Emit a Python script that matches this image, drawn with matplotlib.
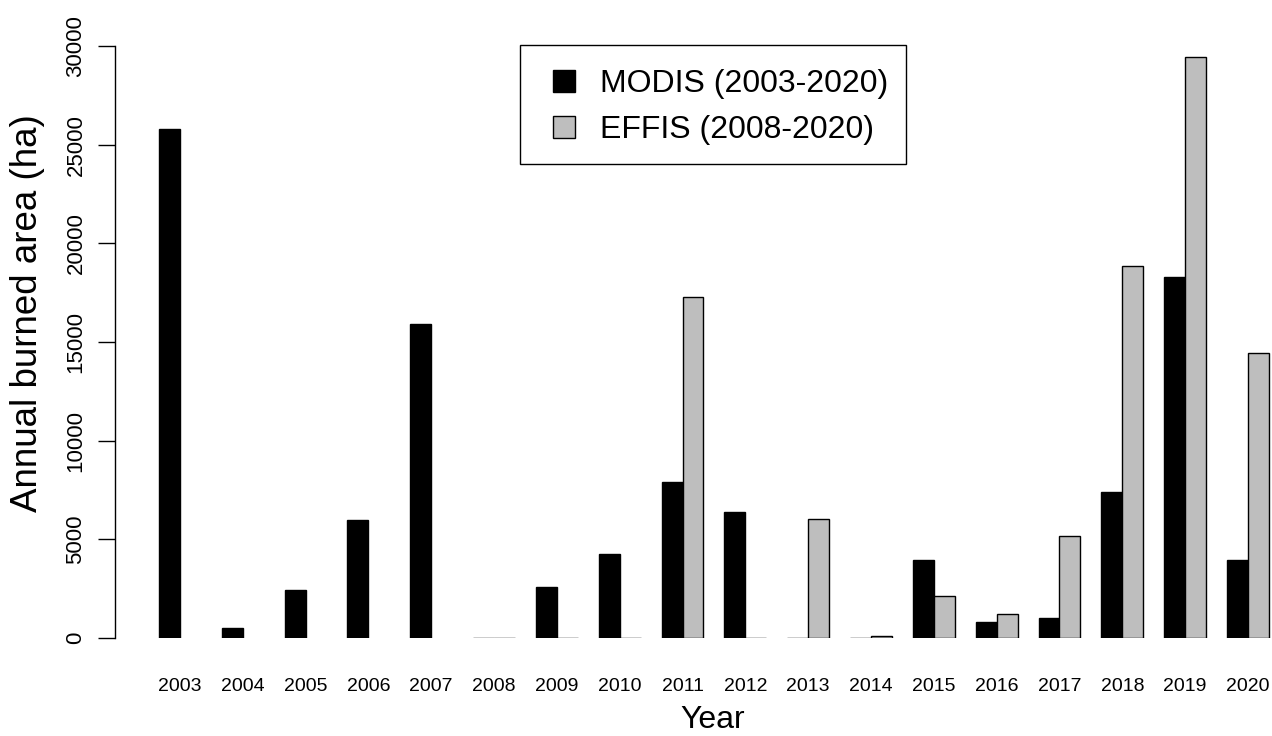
import numpy as np
import matplotlib
matplotlib.use('Agg')
import matplotlib.pyplot as plt
from matplotlib.patches import Patch, Rectangle
from matplotlib.legend_handler import HandlerPatch

plt.rcParams['font.family'] = ['Liberation Sans', 'DejaVu Sans']

# 연도별 연소 면적 (ha)
years = [2003, 2004, 2005, 2006, 2007, 2008, 2009, 2010, 2011,
         2012, 2013, 2014, 2015, 2016, 2017, 2018, 2019, 2020]
modis = [25800, 500, 2450, 5970, 15900, 0, 2580, 4240, 7900,
         6380, 0, 20, 3970, 800, 1010, 7380, 18270, 3970]
effis = [np.nan, np.nan, np.nan, np.nan, np.nan, 0, 0, 0, 17260,
         0, 6050, 120, 2150, 1220, 5170, 18870, 29450, 14450]
yticks = [0, 5000, 10000, 15000, 20000, 25000, 30000]

W, H = 1272, 736
L, B, T = 114.6, 638, 46
fig = plt.figure(figsize=(W / 100, H / 100), dpi=100)
ax = fig.add_axes([L / W, (H - B) / H, (W - L) / W, (B - T) / H])

idx = np.arange(len(years))
x_modis = 1 + 3 * idx
x_effis = 2 + 3 * idx
effis_arr = np.array(effis, dtype=float)
ok = ~np.isnan(effis_arr)

ax.bar(x_modis, modis, width=1, align='edge', color='black',
       edgecolor='black', linewidth=1.0)
ax.bar(x_effis[ok], effis_arr[ok], width=1, align='edge', color='#bebebe',
       edgecolor='black', linewidth=1.0)

ax.set_xlim(-1.12, (W - 138.1) / 20.94)
ax.set_ylim(0, 30000)

for s in ['top', 'right', 'bottom']:
    ax.spines[s].set_visible(False)
ax.spines['left'].set_bounds(0, 30000)
ax.spines['left'].set_linewidth(1.0)

ax.set_yticks(yticks)
ax.set_yticklabels([str(v) for v in yticks], rotation=90, va='center')
ax.tick_params(axis='y', length=12.2, width=1.0, pad=8, labelsize=16)

ax.set_xticks(x_modis + 1)
ax.set_xticklabels([str(y) for y in years])
ax.tick_params(axis='x', length=0, pad=29, labelsize=14)

ax.set_xlabel('Year', fontsize=23)
ax.set_ylabel('Annual burned area (ha)', fontsize=26.5)

# 축 라벨 위치 (픽셀 기준)
ax.xaxis.set_label_coords((713 - L) / (W - L), -(720 - B) / (B - T))
ax.xaxis.label.set_va('center')
ax.yaxis.set_label_coords(-(L - 28) / (W - L), (B - 313) / (B - T))
ax.yaxis.label.set_va('center')


class SquareHandler(HandlerPatch):
    # 범례 상자 안쪽 여백을 위해 사각형을 오른쪽에 그림
    def create_artists(self, legend, orig_handle, xdescent, ydescent,
                       width, height, fontsize, trans):
        sq = 22 * 72 / 100
        p = Rectangle((-xdescent + width - sq, -ydescent + (height - sq) / 2), sq, sq,
                      facecolor=orig_handle.get_facecolor(),
                      edgecolor='black', linewidth=1.0, transform=trans)
        return [p]


handles = [Patch(facecolor='black', edgecolor='black'),
           Patch(facecolor='#bebebe', edgecolor='black')]
leg = ax.legend(handles, ['MODIS (2003-2020)', 'EFFIS (2008-2020)'],
                loc='upper left', bbox_to_anchor=(520 / W, 1 - 45 / H),
                bbox_transform=fig.transFigure, borderaxespad=0,
                fancybox=False, framealpha=1, fontsize=23,
                handler_map={Patch: SquareHandler()},
                handlelength=1.17, handleheight=1.4, handletextpad=0.8,
                borderpad=0.55, labelspacing=0.3)
leg.get_frame().set_edgecolor('black')
leg.get_frame().set_linewidth(1.0)

fig.savefig('out.png', dpi=100)
